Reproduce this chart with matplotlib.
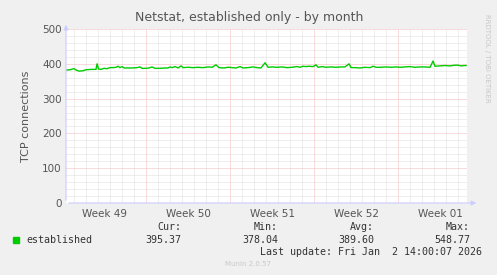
import matplotlib
matplotlib.use("Agg")
import matplotlib.pyplot as plt
from matplotlib.ticker import MultipleLocator, FixedLocator

# days relative to Monday of week 50, and established connection counts
days = [
    -6.67, -6.33, -6.0, -5.83, -5.58, -5.25, -5.0, -4.5, -4.17, -4.08,
    -3.96, -3.75, -3.5, -3.25, -3.0, -2.75, -2.5, -2.33, -2.17, -2.0,
    -1.83, -1.5, -1.17, -0.75, -0.5, -0.33, 0.0, 0.25, 0.5, 0.75,
    1.17, 1.58, 1.83, 2.0, 2.17, 2.42, 2.67, 2.92, 3.08, 3.5,
    3.92, 4.33, 4.75, 5.17, 5.5, 5.83, 6.08, 6.5, 6.83, 7.17,
    7.5, 7.83, 8.08, 8.5, 8.92, 9.25, 9.58, 9.92, 10.17, 10.5,
    10.92, 11.33, 11.75, 12.17, 12.58, 12.83, 13.08, 13.33, 13.58, 13.92,
    14.17, 14.33, 14.67, 15.0, 15.42, 15.83, 16.25, 16.58, 16.92, 17.08,
    17.42, 17.83, 18.25, 18.67, 18.92, 19.17, 19.58, 20.0, 20.42, 20.83,
    21.17, 21.58, 22.0, 22.42, 22.83, 23.25, 23.67, 23.92, 24.08, 24.5,
    24.92, 25.33, 25.75, 26.0, 26.25, 26.5, 26.67,
]
established = [
    382, 383, 386, 382, 379, 380, 383, 384, 384, 400,
    385, 384, 387, 386, 389, 389, 390, 393, 389, 392,
    388, 388, 388, 389, 391, 387, 387, 388, 391, 387,
    387, 388, 388, 391, 389, 392, 388, 394, 389, 390,
    389, 390, 389, 391, 390, 397, 389, 388, 390, 389,
    388, 392, 388, 389, 391, 389, 388, 403, 390, 391,
    390, 391, 389, 390, 392, 390, 393, 392, 393, 392,
    397, 390, 392, 390, 391, 390, 391, 391, 400, 389,
    389, 388, 390, 389, 393, 390, 390, 391, 390, 391,
    390, 391, 392, 390, 391, 391, 390, 408, 393, 394,
    395, 394, 396, 396, 394, 395, 395,
]

week_labels = ["Week 49", "Week 50", "Week 51", "Week 52", "Week 01"]
week_centers = [-3.5, 3.5, 10.5, 17.5, 24.5]
stat_names = ["Cur:", "Min:", "Avg:", "Max:"]
stat_values = ["395.37", "378.04", "389.60", "548.77"]

BG = "#f0f0f0"
TXT = "#555555"
GREEN = "#00cc00"
GRID_MINOR = "#dedede"
GRID_MAJOR = "#f5b8b8"

fig = plt.figure(figsize=(4.97, 2.75), dpi=100, facecolor=BG)
W, H = 497, 275
ax = fig.add_axes([66 / W, 1 - 203 / H, 401 / W, 174 / H])
ax.set_facecolor("white")

x_min, x_max = -6.67, 26.75
ax.set_xlim(x_min, x_max)
ax.set_ylim(0, 500)

# grid: dotted, grey per day / 20 units, red per week / 100 units
dots = (0, (1, 1))
for d in range(-6, 27):
    col = GRID_MAJOR if d % 7 == 0 else GRID_MINOR
    ax.axvline(d, color=col, lw=0.72, ls=dots, zorder=1)
for v in range(20, 501, 20):
    col = GRID_MAJOR if v % 100 == 0 else GRID_MINOR
    ax.axhline(v, color=col, lw=0.72, ls=dots, zorder=1)

ax.plot(days, established, color=GREEN, lw=1.0, zorder=3)

for s in ax.spines.values():
    s.set_visible(False)

ax.yaxis.set_major_locator(MultipleLocator(100))
ax.xaxis.set_major_locator(FixedLocator(week_centers))
ax.set_xticklabels(week_labels)
ax.tick_params(axis="both", length=0, colors=TXT, labelsize=7.5, pad=3)
ax.tick_params(axis="x", pad=4)
for lbl in ax.get_yticklabels() + ax.get_xticklabels():
    lbl.set_color(TXT)

# axis lines with arrows
ax.annotate("", xy=(0, 1.04), xytext=(0, 0), xycoords="axes fraction",
            arrowprops=dict(arrowstyle="-|>", color="#ccccff", lw=0.8,
                            mutation_scale=7), annotation_clip=False)
ax.annotate("", xy=(1.03, 0), xytext=(0, 0), xycoords="axes fraction",
            arrowprops=dict(arrowstyle="-|>", color="#ccccff", lw=0.8,
                            mutation_scale=7), annotation_clip=False)

ax.set_ylabel("TCP connections", color=TXT, fontsize=8, labelpad=8)

fig.text(249 / W, 1 - 18 / H, "Netstat, established only - by month",
         ha="center", va="center", fontsize=9, color=TXT)
fig.text(487 / W, 1 - 58 / H, "RRDTOOL / TOBI OETIKER", rotation=270,
         ha="center", va="center", fontsize=5, color="#c8c8c8")

# legend block
mono = "DejaVu Sans Mono"
fs = 7.2
fig.patches.append(plt.Rectangle((13 / W, 1 - 243 / H), 6 / W, 6 / H,
                                 transform=fig.transFigure, color=GREEN))
fig.text(26 / W, 1 - 240 / H, "established", family=mono, fontsize=fs,
         color="#333333", va="center", ha="left")
stat_right = [181, 278, 374, 470]
for name, val, xr in zip(stat_names, stat_values, stat_right):
    fig.text(xr / W, 1 - 227 / H, name, family=mono, fontsize=fs,
             color="#333333", va="center", ha="right")
    fig.text(xr / W, 1 - 240 / H, val, family=mono, fontsize=fs,
             color="#333333", va="center", ha="right")
fig.text(482 / W, 1 - 252 / H, "Last update: Fri Jan  2 14:00:07 2026",
         family=mono, fontsize=fs, color="#333333", va="center", ha="right")
fig.text(248 / W, 1 - 264 / H, "Munin 2.0.57", fontsize=5,
         color="#c8c8c8", va="center", ha="center")

fig.savefig("out.png", dpi=100, facecolor=BG)
